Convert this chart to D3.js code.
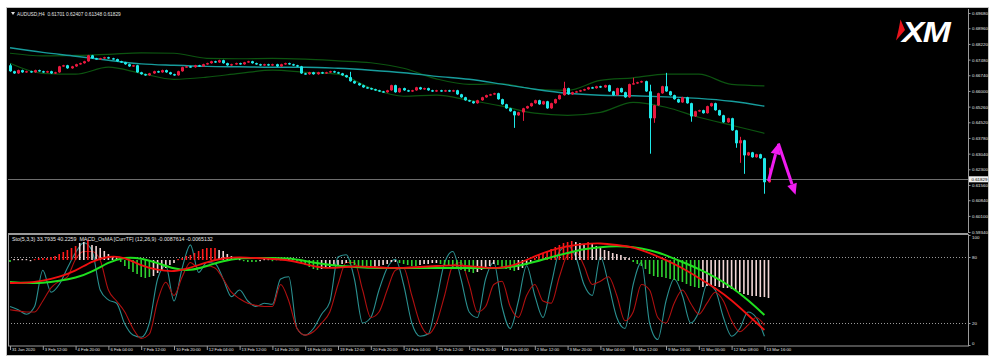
<!DOCTYPE html>
<html>
<head>
<meta charset="utf-8">
<script src="https://cdn.jsdelivr.net/npm/d3@7"></script>
<style>
  body { margin: 0; background: #fff; }
  svg { display: block; font-family: "Liberation Sans", Arial, sans-serif; }
</style>
</head>
<body>
<svg id="chart" width="1000" height="363"></svg>
<script>
// ---- data ----
const symbolInfo = "AUDUSD,H4  0.61701 0.62407 0.61348 0.61829";
const subInfo = "Sto(5,3,3) 33.7935 40.2259  MACD_OsMA [CurrTF] (12,26,9) -0.0087614 -0.0065132";
const lastPrice = 0.61829;

const priceTicks = [0.69680, 0.68960, 0.68220, 0.67480, 0.66740, 0.66000, 0.65260, 0.64520,
  0.63780, 0.63040, 0.62300, 0.61560, 0.60840, 0.60100, 0.59340];
const levelTicks = [100, 80, 20, 0];

// one label every 8 bars (H4)
const timeLabels = ["31 Jan 2020", "3 Feb 12:00", "4 Feb 20:00", "6 Feb 04:00", "7 Feb 12:00",
  "10 Feb 20:00", "12 Feb 04:00", "13 Feb 12:00", "14 Feb 20:00", "18 Feb 04:00", "19 Feb 12:00",
  "20 Feb 20:00", "24 Feb 04:00", "25 Feb 12:00", "26 Feb 20:00", "28 Feb 04:00", "2 Mar 12:00",
  "3 Mar 20:00", "5 Mar 04:00", "6 Mar 12:00", "9 Mar 16:00", "11 Mar 00:00", "12 Mar 08:00",
  "13 Mar 16:00"];

// candles: open of each bar = previous close
const firstOpen = 0.6721;
const closes = [
  0.6693, 0.6683, 0.6698, 0.6688, 0.6693, 0.6688, 0.6698, 0.6693, 0.6688, 0.6693,
  0.6683, 0.6688, 0.6716, 0.6721, 0.6707, 0.6716, 0.6726, 0.6731, 0.6740, 0.6768,
  0.6754, 0.6750, 0.6754, 0.6759, 0.6754, 0.6750, 0.6740, 0.6735, 0.6726, 0.6716,
  0.6721, 0.6688, 0.6679, 0.6674, 0.6683, 0.6693, 0.6688, 0.6698, 0.6688, 0.6679,
  0.6674, 0.6693, 0.6712, 0.6716, 0.6712, 0.6721, 0.6716, 0.6726, 0.6731, 0.6740,
  0.6735, 0.6745, 0.6731, 0.6721, 0.6726, 0.6731, 0.6726, 0.6735, 0.6740, 0.6731,
  0.6726, 0.6721, 0.6726, 0.6721, 0.6726, 0.6716, 0.6726, 0.6731, 0.6726, 0.6721,
  0.6716, 0.6683, 0.6679, 0.6688, 0.6679, 0.6688, 0.6683, 0.6688, 0.6693, 0.6688,
  0.6683, 0.6674, 0.6665, 0.6646, 0.6636, 0.6627, 0.6617, 0.6613, 0.6608, 0.6603,
  0.6598, 0.6594, 0.6603, 0.6627, 0.6594, 0.6613, 0.6603, 0.6598, 0.6603, 0.6617,
  0.6608, 0.6613, 0.6603, 0.6598, 0.6603, 0.6598, 0.6603, 0.6598, 0.6603, 0.6584,
  0.6570, 0.6556, 0.6551, 0.6542, 0.6556, 0.6570, 0.6580, 0.6584, 0.6589, 0.6561,
  0.6537, 0.6518, 0.6504, 0.6485, 0.6499, 0.6518, 0.6528, 0.6542, 0.6556, 0.6537,
  0.6551, 0.6518, 0.6542, 0.6561, 0.6580, 0.6613, 0.6584, 0.6594, 0.6598, 0.6603,
  0.6608, 0.6617, 0.6613, 0.6622, 0.6617, 0.6627, 0.6598, 0.6580, 0.6613, 0.6594,
  0.6570, 0.6632, 0.6636, 0.6641, 0.6646, 0.6598, 0.6471, 0.6532, 0.6589, 0.6622,
  0.6598, 0.6580, 0.6561, 0.6546, 0.6570, 0.6542, 0.6480, 0.6504, 0.6509, 0.6495,
  0.6528, 0.6542, 0.6509, 0.6485, 0.6452, 0.6471, 0.6414, 0.6353, 0.6367, 0.6296,
  0.6310, 0.6287, 0.6301, 0.6282, 0.6169, 0.6183
];
// wick extremes where they reach beyond the body
const wickHigh = { 0: 0.6726, 83: 0.6688, 135: 0.6641, 152: 0.6660, 156: 0.6627, 160: 0.6683, 178: 0.6381, 185: 0.6235 };
const wickLow = { 123: 0.6428, 125: 0.6461, 156: 0.6306, 157: 0.6452, 166: 0.6457, 177: 0.6334, 178: 0.6263, 179: 0.6211, 184: 0.6117 };

// overlays, one value every 8 bars
const slowMA = [0.6804, 0.6782, 0.6764, 0.6745, 0.6728, 0.6721, 0.6716, 0.6714, 0.6712, 0.6712,
  0.6707, 0.6698, 0.6686, 0.6669, 0.6655, 0.6632, 0.6608, 0.6589, 0.6580, 0.6577, 0.6572, 0.6565,
  0.6551, 0.6528];
const bandUpper = [0.6778, 0.6766, 0.6768, 0.6773, 0.6780, 0.6778, 0.6754, 0.6752, 0.6754, 0.6750,
  0.6742, 0.6733, 0.6707, 0.6657, 0.6631, 0.6634, 0.6608, 0.6603, 0.6650, 0.6662, 0.6679, 0.6679,
  0.6631, 0.6624];
const bandLower = [0.6731, 0.6683, 0.6679, 0.6712, 0.6683, 0.6655, 0.6665, 0.6683, 0.6698, 0.6688,
  0.6679, 0.6613, 0.6575, 0.6580, 0.6556, 0.6528, 0.6495, 0.6485, 0.6499, 0.6546, 0.6523, 0.6476,
  0.6438, 0.6400];

// stochastic, one value every 2 bars
const stochK = [35, 32, 28, 35, 68, 48, 55, 70, 84, 93, 86, 50, 41, 38, 19, 9, 7, 20, 60, 72,
  40, 70, 91, 66, 75, 74, 60, 44, 50, 40, 35, 38, 37, 60, 62, 15, 9, 15, 28, 39,
  80, 82, 60, 20, 25, 50, 70, 78, 55, 20, 8, 10, 40, 75, 85, 60, 30, 25, 60, 75,
  35, 15, 40, 72, 45, 25, 55, 85, 90, 80, 55, 45, 80, 55, 25, 15, 55, 75, 20, 5,
  40, 60, 45, 20, 30, 55, 50, 25, 8, 15, 30, 25, 8];
const stochD = [32, 31, 30, 30, 40, 52, 58, 62, 78, 85, 85, 77, 50, 40, 30, 15, 6, 10, 40, 57,
  45, 62, 75, 70, 72, 70, 60, 48, 42, 38, 36, 35, 35, 55, 40, 15, 9, 12, 20, 30,
  55, 75, 75, 50, 25, 30, 50, 68, 70, 45, 20, 10, 20, 45, 72, 75, 55, 30, 35, 55,
  58, 35, 25, 45, 55, 40, 38, 62, 82, 85, 72, 55, 58, 62, 45, 22, 30, 55, 50, 25,
  20, 38, 50, 38, 28, 38, 48, 40, 22, 12, 18, 25, 18];

// MACD lines (pips), one value every 4 bars
const macdMain = [-23, -23, -21, -17, -11, -1, 4, 3, -6, -10, -12, -8, -2, 2, 3, 2, 1, 0, -4, -8,
  -8, -6, -7, -8, -8, -7, -6, -5, -6, -8, -8, -4, 4, 10, 14, 16, 17, 15, 13, 7,
  0, -8, -18, -28, -40, -55, -70];
const macdSignal = [-22, -23, -23, -21, -18, -12, -2, 3, 2, -3, -9, -11, -6, -1, 2, 2, 2, 2, -1, -4,
  -6, -7, -8, -8, -8, -8, -8, -8, -8, -8, -8, -6, -2, 3, 7, 11, 13, 14, 13, 10,
  5, -2, -9, -17, -27, -40, -55];

// OsMA histogram (pips) per bar, with its state code: r rising, w fading, g falling
const osma = [
  -2, 1, 1, 1, 1, 0, 1, 2, 2, 2, 3, 4, 6, 8, 10, 12, 14, 17, 18, 20,
  15, 14, 12, 9, 6, 4, 2, -2, -6, -9, -12, -14, -17, -18, -17, -16, -13, -11, -8, -5,
  -3, 1, 2, 4, 5, 7, 9, 11, 12, 12, 12, 10, 9, 6, 4, 2, 1, -1, -2, -2,
  -2, -1, 1, 1, -1, 1, 1, 2, 2, 1, -1, -3, -5, -7, -9, -10, -9, -8, -7, -6,
  -5, -4, -3, -4, -5, -6, -7, -8, -8, -7, -6, -5, -4, -2, -2, -3, -4, -5, -6, -6,
  -5, -4, -4, -3, -3, -4, -5, -6, -7, -9, -10, -11, -12, -13, -12, -10, -8, -6, -4, -5,
  -7, -9, -10, -11, -10, -8, -5, -2, 2, 5, 7, 9, 11, 13, 15, 17, 18, 19, 18, 17,
  16, 18, 16, 14, 12, 10, 9, 7, 6, 5, 3, 2, -2, -4, -6, -9, -14, -16, -17, -17,
  -18, -19, -20, -21, -22, -24, -26, -27, -28, -27, -26, -25, -26, -27, -28, -28, -29, -31, -32, -34,
  -35, -36, -36, -37, -37, -38
];
const osmaState = "gwwwwwrrrr" + "rrrrrrrwwr" + "wwwwwwwggg" + "gggggwwwww" + "wrrrrrrrrr" +
  "rwwwwwwggg" + "gwwwgwwwww" + "ggggggwwww" + "wwwggggggw" + "wwwwwggggg" +
  "wwwwwggggg" + "ggggwwwwwg" + "ggggwwwwrr" + "rrrrrrrrww" + "wrwwwwwwww" +
  "wwgggggggg" + "gggggggggw" + "wwwwwwwwww" + "wwwwww";

// hand-drawn arrows (bar, price)
const arrowPath = [[185, 0.6174], [187.4, 0.6352], [191.6, 0.6110]];

// ---- layout ----
const W = 1000, H = 363;
const N = closes.length;
const plotLeft = 8, plotRight = 968;
const mainTop = 9, mainBottom = 233;
const subTop = 235, subBottom = 345;
const txt = "#e4e4e4";

const svg = d3.select("#chart");
svg.append("rect").attr("width", W).attr("height", H).attr("fill", "#fff");
svg.append("rect").attr("x", 6.5).attr("y", 7.5).attr("width", 982).attr("height", 348)
  .attr("fill", "#000").attr("stroke", "#c4c4c4");

const x = d3.scaleLinear().domain([0, N - 1]).range([10, 768.5]);
const yP = d3.scaleLinear().domain([0.59340, 0.69680]).range([232, 13]);
const yS = d3.scaleLinear().domain([0, 100]).range([subBottom, subTop]);
const yM = d3.scaleLinear().domain([-85, 25]).range([subBottom, subTop]);

const defs = svg.append("defs");
defs.append("clipPath").attr("id", "clipMain").append("rect")
  .attr("x", plotLeft).attr("y", mainTop).attr("width", plotRight - plotLeft).attr("height", mainBottom - mainTop);
defs.append("clipPath").attr("id", "clipSub").append("rect")
  .attr("x", plotLeft).attr("y", subTop).attr("width", plotRight - plotLeft).attr("height", subBottom - subTop);

// ---- main window ----
const main = svg.append("g").attr("clip-path", "url(#clipMain)");

// current price line
main.append("line").attr("x1", plotLeft).attr("x2", plotRight)
  .attr("y1", Math.round(yP(lastPrice)) + 0.5).attr("y2", Math.round(yP(lastPrice)) + 0.5)
  .attr("stroke", "#6e6e6e");

const every = (arr, step) => arr.map((v, k) => ({ i: Math.min(k * step, N - 1), v }));
const pline = d3.line().x(d => x(d.i)).y(d => yP(d.v)).curve(d3.curveMonotoneX);

main.append("path").attr("d", pline(every(bandUpper, 8))).attr("fill", "none").attr("stroke", "#0c5410").attr("stroke-width", 1.2);
main.append("path").attr("d", pline(every(bandLower, 8))).attr("fill", "none").attr("stroke", "#0c5410").attr("stroke-width", 1.2);
main.append("path").attr("d", pline(every(slowMA, 8))).attr("fill", "none").attr("stroke", "#179c9c").attr("stroke-width", 1.4);

const candles = closes.map((c, i) => {
  const o = i ? closes[i - 1] : firstOpen;
  return {
    i, o, c,
    h: Math.max(o, c, wickHigh[i] ?? -1),
    l: Math.min(o, c, wickLow[i] ?? 9)
  };
});
const candleColor = d => d.c > d.o ? "#e8193f" : "#1ee8e8";

main.append("g").selectAll("line").data(candles).join("line")
  .attr("x1", d => Math.round(x(d.i)) + 0.5).attr("x2", d => Math.round(x(d.i)) + 0.5)
  .attr("y1", d => yP(d.h) - 0.5).attr("y2", d => yP(d.l) + 0.5)
  .attr("stroke", candleColor).attr("stroke-width", 1);
main.append("g").selectAll("rect").data(candles).join("rect")
  .attr("x", d => Math.round(x(d.i)) - 1)
  .attr("width", 3)
  .attr("y", d => yP(Math.max(d.o, d.c)))
  .attr("height", d => Math.max(1.2, Math.abs(yP(d.o) - yP(d.c))))
  .attr("fill", candleColor);

// magenta arrows
const ap = arrowPath.map(([b, p]) => [x(b), yP(p)]);
function arrow(g, a, b) {
  const ang = Math.atan2(b[1] - a[1], b[0] - a[0]);
  const len = 11, half = 5;
  const bx = b[0] - len * Math.cos(ang), by = b[1] - len * Math.sin(ang);
  g.append("line").attr("x1", a[0]).attr("y1", a[1]).attr("x2", bx).attr("y2", by)
    .attr("stroke", "#f01cf0").attr("stroke-width", 3);
  g.append("path").attr("fill", "#f01cf0").attr("d",
    `M${b[0]},${b[1]}L${bx - half * Math.sin(ang)},${by + half * Math.cos(ang)}L${bx + half * Math.sin(ang)},${by - half * Math.cos(ang)}Z`);
}
const arrows = svg.append("g");
arrow(arrows, ap[0], ap[1]);
arrow(arrows, ap[1], ap[2]);

// XM logo
const logo = svg.append("g");
logo.append("path").attr("d", "M900.5,19.5 L905,30 L896,40.5 L898.5,30 Z").attr("fill", "#e8141c");
logo.append("text").attr("transform", "translate(902,41.5) scale(1.12,1)").text("XM")
  .attr("fill", "#fff").attr("font-weight", "bold").attr("font-style", "italic").attr("font-size", 30)
  .attr("letter-spacing", -1.5);

// top-left caption
svg.append("path").attr("d", "M11,12 L15,12 L13,15 Z").attr("fill", "#ddd");
svg.append("text").attr("x", 17).attr("y", 15.5).text(symbolInfo)
  .attr("fill", txt).attr("font-size", 4.8).attr("xml:space", "preserve");

// price axis
const pAxis = svg.append("g").attr("transform", `translate(${plotRight + 0.5},0)`)
  .call(d3.axisRight(yP).tickValues(priceTicks).tickFormat(d3.format(".5f")).tickSize(2).tickPadding(1.5));
pAxis.select(".domain").attr("stroke", "#9a9a9a").attr("d", `M0,${mainTop}V${mainBottom}`);
pAxis.selectAll(".tick line").attr("stroke", "#9a9a9a");
pAxis.selectAll(".tick text").attr("fill", txt).attr("font-size", 4.4).attr("font-family", "Liberation Sans, Arial, sans-serif");

// last price tag
const lp = yP(lastPrice);
svg.append("rect").attr("x", plotRight + 1).attr("y", lp - 3).attr("width", 19).attr("height", 6).attr("fill", "#f0f0f0");
svg.append("text").attr("x", plotRight + 3.5).attr("y", lp + 1.6).text(lastPrice.toFixed(5))
  .attr("fill", "#000").attr("font-size", 4.4);

// separator and sub window frame
svg.append("line").attr("x1", plotLeft).attr("x2", plotRight).attr("y1", mainBottom + 0.5).attr("y2", mainBottom + 0.5)
  .attr("stroke", "#9a9a9a");
svg.append("rect").attr("x", plotLeft + 0.5).attr("y", subTop - 0.5).attr("width", plotRight - plotLeft)
  .attr("height", subBottom - subTop + 1.5).attr("fill", "none").attr("stroke", "#9a9a9a");

// ---- sub window ----
const sub = svg.append("g").attr("clip-path", "url(#clipSub)");

sub.selectAll(".lvl").data([80, 20]).join("line").attr("class", "lvl")
  .attr("x1", plotLeft).attr("x2", plotRight)
  .attr("y1", d => Math.round(yS(d)) + 0.5).attr("y2", d => Math.round(yS(d)) + 0.5)
  .attr("stroke", "#9a9a9a").attr("stroke-dasharray", "1,2");

const sline = d3.line().x(d => x(d.i)).y(d => yS(d.v)).curve(d3.curveMonotoneX);
const mline = d3.line().x(d => x(d.i)).y(d => yM(d.v)).curve(d3.curveBasis);

sub.append("path").attr("d", sline(every(stochK, 2))).attr("fill", "none").attr("stroke", "#2a9090").attr("stroke-width", 1.1);
sub.append("path").attr("d", sline(every(stochD, 2))).attr("fill", "none").attr("stroke", "#b01010").attr("stroke-width", 1.1);

const histColor = d3.scaleOrdinal().domain(["r", "w", "g"]).range(["#ff1a1a", "#f2d6d6", "#2fd02f"]);
sub.append("g").selectAll("rect").data(osma.map((v, i) => ({ i, v, s: osmaState[i] }))).join("rect")
  .attr("x", d => x(d.i) - 0.8).attr("width", 1.6)
  .attr("y", d => Math.min(yM(d.v), yM(0)))
  .attr("height", d => Math.max(1.2, Math.abs(yM(d.v) - yM(0))))
  .attr("fill", d => histColor(d.s));

sub.append("path").attr("d", mline(every(macdSignal, 4))).attr("fill", "none").attr("stroke", "#1fe01f").attr("stroke-width", 2);
sub.append("path").attr("d", mline(every(macdMain, 4))).attr("fill", "none").attr("stroke", "#f01010").attr("stroke-width", 1.8);

svg.append("text").attr("x", 12).attr("y", 241).text(subInfo)
  .attr("fill", txt).attr("font-size", 5.3).attr("xml:space", "preserve");

// level axis
const lAxis = svg.append("g").attr("transform", `translate(${plotRight + 0.5},0)`)
  .call(d3.axisRight(yS).tickValues(levelTicks).tickSize(2).tickPadding(1.5));
lAxis.select(".domain").remove();
lAxis.selectAll(".tick line").attr("stroke", "#9a9a9a");
lAxis.selectAll(".tick text").attr("fill", txt).attr("font-size", 4.4).attr("font-family", "Liberation Sans, Arial, sans-serif")
  .attr("dy", d => d === 100 ? "0.9em" : d === 0 ? "-0.2em" : "0.32em");

// time axis
const tAxis = svg.append("g").attr("transform", `translate(0,${subBottom + 1})`)
  .call(d3.axisBottom(x).tickValues(timeLabels.map((t, k) => k * 8)).tickFormat((d, k) => timeLabels[k]).tickSize(4).tickPadding(1));
tAxis.select(".domain").remove();
tAxis.selectAll(".tick line").attr("stroke", "#9a9a9a");
tAxis.selectAll(".tick text").attr("fill", txt).attr("font-size", 4.2).attr("font-family", "Liberation Sans, Arial, sans-serif")
  .attr("text-anchor", "start").attr("x", 1.5).attr("y", 2);
</script>
</body>
</html>
